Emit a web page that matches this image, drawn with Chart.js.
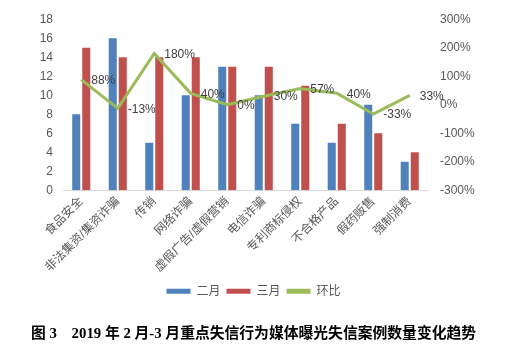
<!DOCTYPE html>
<html>
<head>
<meta charset="utf-8">
<script src="https://cdn.jsdelivr.net/npm/chart.js@4"></script>
<style>
  html, body { margin: 0; padding: 0; background: #fff; }
  #wrap { width: 507px; height: 353px; }
</style>
</head>
<body>
<div id="wrap"><canvas id="c" width="507" height="353"></canvas></div>
<script>
const categories = ['食品安全', '非法集资/集资诈骗', '传销', '网络诈骗', '虚假广告/虚假营销', '电信诈骗', '专利商标侵权', '不合格产品', '假药贩售', '强制消费'];
const febData = [8, 16, 5, 10, 13, 10, 7, 5, 9, 3];
const marData = [15, 14, 14, 14, 13, 13, 11, 7, 6, 4];
const momData = [88, -13, 180, 40, 0, 30, 57, 40, -33, 33];
const seriesNames = ['二月', '三月', '环比'];
const chartTitle = '图 3　2019 年 2 月-3 月重点失信行为媒体曝光失信案例数量变化趋势';

const FONT = '"Liberation Sans", "Noto Sans CJK SC", sans-serif';
const GREY = '#595959';

// labels next to the line points
const pointLabels = {
    id: 'pointLabels',
    afterDatasetsDraw(chart) {
        const ctx = chart.ctx;
        const meta = chart.getDatasetMeta(0);
        ctx.save();
        ctx.font = '12px ' + FONT;
        ctx.fillStyle = '#404040';
        ctx.textAlign = 'left';
        ctx.textBaseline = 'middle';
        meta.data.forEach((pt, i) => {
            ctx.fillText(momData[i] + '%', pt.x + 10, pt.y + 1);
        });
        ctx.restore();
    }
};

new Chart(document.getElementById('c'), {
    data: {
        labels: categories,
        datasets: [
            {
                type: 'line',
                label: seriesNames[2],
                data: momData,
                yAxisID: 'y2',
                borderColor: '#9BBB59',
                backgroundColor: '#9BBB59',
                borderWidth: 3,
                pointRadius: 0,
                tension: 0,
                order: 0
            },
            {
                type: 'bar',
                label: seriesNames[0],
                data: febData,
                yAxisID: 'y',
                backgroundColor: '#4F81BD',
                categoryPercentage: 0.55,
                barPercentage: 0.8,
                order: 1
            },
            {
                type: 'bar',
                label: seriesNames[1],
                data: marData,
                yAxisID: 'y',
                backgroundColor: '#C0504D',
                categoryPercentage: 0.55,
                barPercentage: 0.8,
                order: 1
            }
        ]
    },
    options: {
        responsive: false,
        animation: false,
        layout: { padding: { top: 8, left: 0, right: 0, bottom: 0 } },
        scales: {
            x: {
                grid: { display: false, drawTicks: false },
                border: { display: true, color: '#d9d9d9' },
                ticks: {
                    color: GREY,
                    font: { size: 12, family: FONT },
                    minRotation: 45,
                    maxRotation: 45,
                    padding: 4,
                    autoSkip: false
                },
                afterFit: s => { s.height = 89; }
            },
            y: {
                position: 'left',
                min: 0, max: 18,
                ticks: { stepSize: 2, color: GREY, font: { size: 12, family: FONT }, padding: 10 },
                grid: { display: false, drawTicks: false },
                border: { display: false },
                afterFit: s => { s.width = 63; }
            },
            y2: {
                position: 'right',
                min: -300, max: 300,
                ticks: {
                    stepSize: 100, color: GREY, font: { size: 12, family: FONT }, padding: 12,
                    callback: v => v + '%'
                },
                grid: { display: false, drawTicks: false },
                border: { display: false },
                afterFit: s => { s.width = 79; }
            }
        },
        plugins: {
            legend: {
                position: 'bottom',
                labels: {
                    color: GREY,
                    font: { size: 12, family: FONT },
                    boxWidth: 24,
                    boxHeight: 5,
                    padding: 6,
                    generateLabels: chart => [1, 2, 0].map(i => {
                        const ds = chart.data.datasets[i];
                        return {
                            text: ds.label,
                            fillStyle: ds.type === 'line' ? ds.borderColor : ds.backgroundColor,
                            strokeStyle: ds.type === 'line' ? ds.borderColor : ds.backgroundColor,
                            lineWidth: 0,
                            fontColor: GREY,
                            datasetIndex: i
                        };
                    })
                }
            },
            title: {
                display: true,
                position: 'bottom',
                text: chartTitle,
                color: '#000',
                font: { size: 14.8, weight: 'bold', family: '"Liberation Serif", "Noto Sans CJK SC", serif' },
                padding: { top: 18, bottom: 10 }
            },
            tooltip: { enabled: false }
        }
    },
    plugins: [pointLabels]
});
</script>
</body>
</html>
